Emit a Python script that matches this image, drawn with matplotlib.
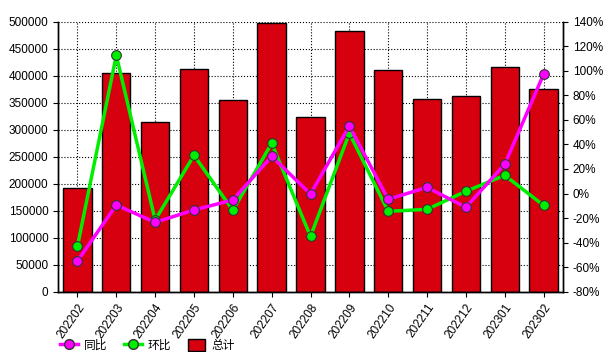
import numpy as np
import matplotlib.pyplot as plt
from matplotlib.lines import Line2D
from matplotlib.patches import Patch

plt.rcParams['font.family'] = ['Liberation Sans', 'Noto Sans CJK SC', 'DejaVu Sans']

months = ['202202', '202203', '202204', '202205', '202206', '202207', '202208',
          '202209', '202210', '202211', '202212', '202301', '202302']
total = [191500, 404400, 314800, 411800, 355000, 497000, 323000,
         482200, 410000, 356300, 361800, 415500, 374800]
yoy = [-55, -9.4, -23.5, -13.4, -5.3, 30.3, -0.4, 55, -4.7, 5, -11.2, 23.8, 97.1]
mom = [-43, 112.6, -21.6, 31.1, -13.7, 40.9, -34.9, 49.1, -14.5, -12.9, 1.8, 14.8, -9.6]

x = np.arange(len(months))
fig = plt.figure(figsize=(6.07, 3.52), dpi=100)
ax = fig.add_axes([0.0956, 0.1713, 0.8319, 0.7671])
ax.bar(x, total, width=0.73, color='#d7000f', edgecolor='black', linewidth=1, zorder=2)
ax.set_xlim(-0.5, len(months) - 0.5)
ax.set_ylim(0, 500000)
ax.set_yticks(np.arange(0, 500001, 50000))
ax.set_xticks(x)
ax.set_xticklabels(months, rotation=55, ha='right', rotation_mode='anchor', fontsize=8.5)
ax.tick_params(axis='y', labelsize=8.5)
ax.grid(True, linestyle=':', color='black', linewidth=0.8, zorder=0)
ax.set_axisbelow(True)

ax2 = ax.twinx()
ax2.set_ylim(-80, 140)
ax2.set_yticks(np.arange(-80, 141, 20))
ax2.set_yticklabels([f'{v}%' for v in range(-80, 141, 20)])
ax2.tick_params(axis='y', labelsize=8.5)
ax2.plot(x, mom, color='#00ee00', linewidth=2.5, marker='o', markersize=7,
         markerfacecolor='#00ee00', markeredgecolor='#333333', markeredgewidth=0.8, zorder=3)
ax2.plot(x, yoy, color='#ff00ff', linewidth=2.5, marker='o', markersize=7,
         markerfacecolor='#ff00ff', markeredgecolor='#333333', markeredgewidth=0.8, zorder=4)

for a in (ax, ax2):
    for s in a.spines.values():
        s.set_linewidth(1)
    a.spines['top'].set_visible(False)

handles = [
    Line2D([0], [0], color='#ff00ff', linewidth=2.5, marker='o', markersize=7,
           markerfacecolor='#ff00ff', markeredgecolor='#333333'),
    Line2D([0], [0], color='#00ee00', linewidth=2.5, marker='o', markersize=7,
           markerfacecolor='#00ee00', markeredgecolor='#333333'),
    Patch(facecolor='#d7000f', edgecolor='black'),
]
fig.legend(handles, ['同比', '环比', '总计'], loc='lower left', bbox_to_anchor=(0.082, -0.03),
           ncol=3, frameon=False, fontsize=8.5, handlelength=1.5, handleheight=1.1,
           handletextpad=0.5, columnspacing=1.4)

plt.savefig('out.png', dpi=100)
